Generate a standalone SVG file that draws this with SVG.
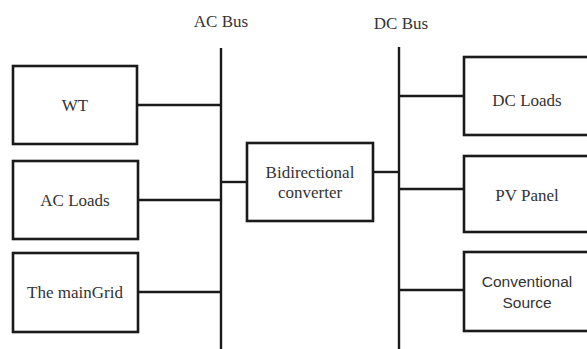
<svg xmlns="http://www.w3.org/2000/svg" width="587" height="349" viewBox="0 0 587 349">
<style>
.box{fill:#fff;stroke:#1a1a1a;stroke-width:2.6}
.ln{stroke:#1a1a1a;stroke-width:2.4;fill:none}
.t{font-family:"Liberation Serif","Times New Roman",serif;font-size:17px;fill:#333;text-anchor:middle}
.s{font-family:"Liberation Sans",Arial,sans-serif;font-size:15.5px;fill:#333;text-anchor:middle}
</style>
<rect width="587" height="349" fill="#fff"/>
<g id="connectors">
<line class="ln" x1="221" y1="48" x2="221" y2="349"/>
<line class="ln" x1="399" y1="47" x2="399" y2="349"/>
<line class="ln" x1="137" y1="105" x2="221" y2="105"/>
<line class="ln" x1="138" y1="200" x2="221" y2="200"/>
<line class="ln" x1="138" y1="292" x2="221" y2="292"/>
<line class="ln" x1="221" y1="182" x2="247" y2="182"/>
<line class="ln" x1="373" y1="172" x2="399" y2="172"/>
<line class="ln" x1="399" y1="96" x2="464" y2="96"/>
<line class="ln" x1="399" y1="189" x2="464" y2="189"/>
<line class="ln" x1="399" y1="290" x2="464" y2="290"/>
</g>
<g id="acbus-label"><text class="t" x="221" y="27">AC Bus</text></g>
<g id="dcbus-label"><text class="t" x="401" y="29">DC Bus</text></g>
<g id="wt"><rect class="box" x="13" y="66" width="124" height="78"/><text class="t" x="75" y="111">WT</text></g>
<g id="acloads"><rect class="box" x="13" y="161" width="125" height="78"/><text class="t" x="75" y="206">AC Loads</text></g>
<g id="maingrid"><rect class="box" x="13" y="253" width="125" height="79"/><text class="t" x="75" y="298">The mainGrid</text></g>
<g id="converter"><rect class="box" x="247" y="143" width="126" height="78"/><text class="t" x="310" y="178">Bidirectional</text><text class="t" x="310" y="198">converter</text></g>
<g id="dcloads"><rect class="box" x="464" y="57" width="130" height="78"/><text class="t" x="527" y="106">DC Loads</text></g>
<g id="pvpanel"><rect class="box" x="464" y="156" width="130" height="76"/><text class="t" x="527" y="201">PV Panel</text></g>
<g id="conventional"><rect class="box" x="464" y="252" width="130" height="79"/><text class="s" x="527" y="287">Conventional</text><text class="s" x="527" y="308">Source</text></g>
</svg>
